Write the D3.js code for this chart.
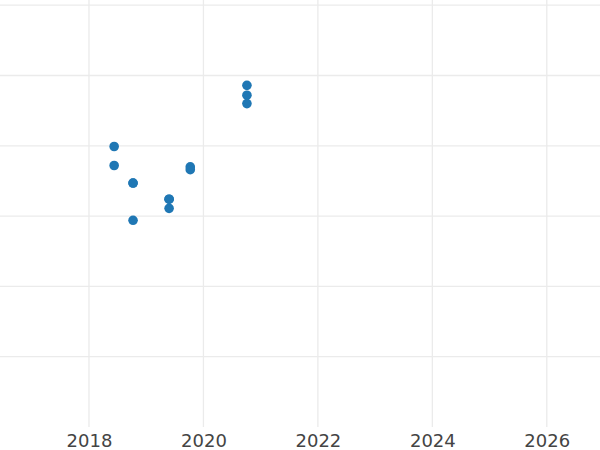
<!DOCTYPE html>
<html>
<head>
<meta charset="utf-8">
<script src="https://cdn.jsdelivr.net/npm/d3@7"></script>
<style>
  html, body { margin: 0; padding: 0; background: #fff; }
  svg { display: block; }
</style>
</head>
<body>
<svg id="chart" width="600" height="450"></svg>
<script>
const years = [2020.76, 2020.76, 2020.76, 2018.44, 2018.44, 2018.77, 2018.77, 2018.77, 2019.40, 2019.40, 2019.40, 2019.77, 2019.77];
const values = [4.86, 4.72, 4.60, 3.99, 3.72, 3.47, 3.47, 2.94, 3.24, 3.24, 3.11, 3.70, 3.66];
const xTicks = [2018, 2020, 2022, 2024, 2026];
const yTicks = [1, 2, 3, 4, 5, 6];

const W = 600, H = 450;
const plotTop = 0, plotBottom = 427, plotLeft = 0, plotRight = 600;

const svg = d3.select("#chart");

const x = d3.scaleLinear().domain([2016.445, 2026.93]).range([plotLeft, plotRight]);
const y = d3.scaleLinear().domain([0, 6.074]).range([plotBottom, plotTop]);

// horizontal gridlines
svg.append("g")
  .selectAll("line")
  .data(yTicks)
  .join("line")
  .attr("x1", plotLeft).attr("x2", plotRight)
  .attr("y1", d => y(d)).attr("y2", d => y(d))
  .attr("stroke", "#ebebeb")
  .attr("stroke-width", 1.3);

// vertical gridlines
svg.append("g")
  .selectAll("line")
  .data(xTicks)
  .join("line")
  .attr("x1", d => x(d)).attr("x2", d => x(d))
  .attr("y1", plotTop).attr("y2", plotBottom)
  .attr("stroke", "#ebebeb")
  .attr("stroke-width", 1.3);

// x axis labels
const xAxis = d3.axisBottom(x).tickValues(xTicks).tickFormat(d3.format("d")).tickSize(0).tickPadding(7);
const gx = svg.append("g").attr("transform", `translate(0,${plotBottom})`).call(xAxis);
gx.select(".domain").remove();
gx.selectAll("text")
  .attr("fill", "#444")
  .style("font-family", "'DejaVu Sans', sans-serif")
  .style("font-size", "18px");

// points
svg.append("g")
  .selectAll("circle")
  .data(years.map((yr, i) => ({ yr, v: values[i] })))
  .join("circle")
  .attr("cx", d => x(d.yr))
  .attr("cy", d => y(d.v))
  .attr("r", 4.8)
  .attr("fill", "#1f77b4");
</script>
</body>
</html>
